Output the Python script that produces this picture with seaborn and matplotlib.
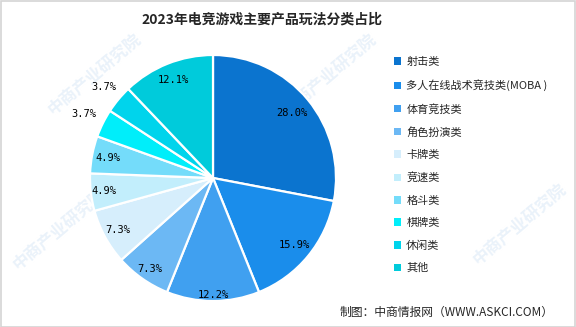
import matplotlib
matplotlib.use("Agg")
import matplotlib.pyplot as plt
from matplotlib.patches import Patch, Rectangle
import numpy as np
import seaborn as sns

categories = ["射击类", "多人在线战术竞技类(MOBA )", "体育竞技类", "角色扮演类", "卡牌类",
              "竞速类", "格斗类", "棋牌类", "休闲类", "其他"]
values = [28.0, 15.9, 12.2, 7.3, 7.3, 4.9, 4.9, 3.7, 3.7, 12.1]
value_labels = ["28.0%", "15.9%", "12.2%", "7.3%", "7.3%", "4.9%", "4.9%", "3.7%", "3.7%", "12.1%"]
title = "2023年电竞游戏主要产品玩法分类占比"
source = "制图：中商情报网（WWW.ASKCI.COM）"
watermark = "中商产业研究院"

colors = sns.color_palette(["#0b74cf", "#1a8deb", "#40a0f0", "#6cb8f4", "#d6eefc",
                            "#c2eefc", "#74dcfa", "#00eefa", "#00d4ec", "#00cbdb"])
label_dist = [0.83, 0.86, 0.95, 0.90, 0.88, 0.89, 0.87, 1.17, 1.16, 0.86]

sns.set_theme(style="white")
plt.rcParams['font.family'] = ['Noto Sans CJK SC', 'DejaVu Sans']

W, H = 576, 327
fig = plt.figure(figsize=(W / 100, H / 100), dpi=100)
fig.patch.set_facecolor("white")

# faint watermark behind the chart
for (x, y) in [(95, 75), (330, 75), (60, 230), (290, 225), (520, 225)]:
    fig.text(x / W, 1 - y / H, watermark, fontsize=12, color="#eaf2fa", rotation=40,
             ha="center", va="center", zorder=-5, fontweight="bold")

cx, cy, R = 213, 178, 123
ax = fig.add_axes([(cx - R) / W, (H - cy - R) / H, 2 * R / W, 2 * R / H])
ax.set_zorder(2)
ax.set_facecolor("none")
wedges, _ = ax.pie(values, colors=colors, startangle=90, counterclock=False,
                   wedgeprops=dict(edgecolor="white", linewidth=1.6))
ax.set_xlim(-1, 1)
ax.set_ylim(-1, 1)
ax.axis("off")

for w, lab, d in zip(wedges, value_labels, label_dist):
    ang = np.deg2rad((w.theta1 + w.theta2) / 2)
    ax.text(d * np.cos(ang), d * np.sin(ang), lab, ha="center", va="center",
            fontsize=7.5, color="black", family=["DejaVu Sans Mono", "DejaVu Sans"], clip_on=False)

handles = [Patch(facecolor=c, edgecolor="none") for c in colors]
fig.legend(handles, categories, loc="upper left", bbox_to_anchor=(394 / W, 1 - 57 / H),
           frameon=False, fontsize=8, handlelength=0.65, handleheight=0.65,
           handletextpad=0.45, labelspacing=1.11, borderaxespad=0, borderpad=0)

fig.text(262 / W, 1 - 20 / H, title, ha="center", va="center", fontsize=10, fontweight="bold")
fig.text(554 / W, 1 - 312 / H, source, ha="right", va="center", fontsize=8.5)

fig.patches.append(Rectangle((0.5 / W, 0.5 / H), 1 - 1.5 / W, 1 - 1.5 / H, transform=fig.transFigure,
                             fill=False, edgecolor="#d4d4d4", linewidth=1.2))

fig.savefig("out.png", dpi=100)
